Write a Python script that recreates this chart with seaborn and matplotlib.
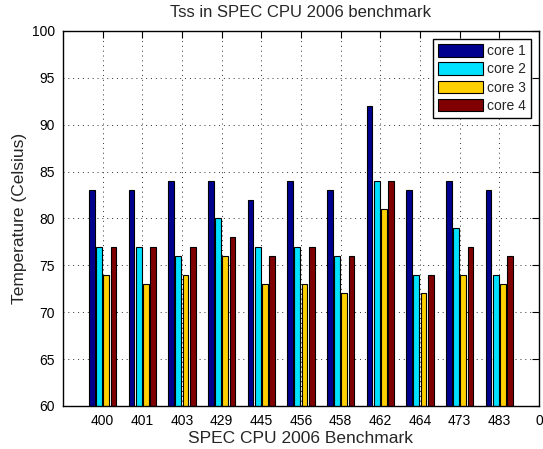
import pandas as pd
import seaborn as sns
import matplotlib.pyplot as plt

# values
benchmarks = ["400", "401", "403", "429", "445", "456", "458", "462", "464", "473", "483"]
core1 = [83, 83, 84, 84, 82, 84, 83, 92, 83, 84, 83]
core2 = [77, 77, 76, 80, 77, 77, 76, 84, 74, 79, 74]
core3 = [74, 73, 74, 76, 73, 73, 72, 81, 72, 74, 73]
core4 = [77, 77, 77, 78, 76, 77, 76, 84, 74, 77, 76]
cores = ["core 1", "core 2", "core 3", "core 4"]
extra_tick = "0"  # trailing tick label shown at the right edge

rows = []
for core, vals in zip(cores, [core1, core2, core3, core4]):
    for b, v in zip(benchmarks, vals):
        rows.append({"bench": b, "core": core, "temp": v})
df = pd.DataFrame(rows)

sns.set_theme(style="white")
plt.rcParams["font.family"] = ["Liberation Sans", "DejaVu Sans"]

fig = plt.figure(figsize=(5.43, 4.49), dpi=100)
ax = fig.add_axes([0.116, 0.0958, 0.8766, 0.8352])

palette = ["#00008F", "#00E0FF", "#FFD000", "#800000"]
sns.barplot(data=df, x="bench", y="temp", hue="core", order=benchmarks + [extra_tick],
            hue_order=cores, palette=palette, width=0.727, gap=0.2,
            edgecolor="black", linewidth=0.8, saturation=1, ax=ax)

ax.set_xlim(-1, 11)
ax.set_ylim(60, 100)
ax.set_yticks(range(60, 101, 5))
ax.set_title("Tss in SPEC CPU 2006 benchmark", fontsize=12, pad=10)
ax.set_xlabel("SPEC CPU 2006 Benchmark", fontsize=12.5, labelpad=2)
ax.set_ylabel("Temperature (Celsius)", fontsize=12.5, labelpad=3)

ax.grid(True, linestyle=(0, (1, 4)), color="#303030", linewidth=0.7)
ax.set_axisbelow(True)
ax.tick_params(direction="in", top=True, right=True, length=5, width=0.8,
               labelsize=10, colors="black", pad=6)
for s in ax.spines.values():
    s.set_visible(True)
    s.set_color("black")
    s.set_linewidth(1)

sns.move_legend(ax, "upper right", title=None, fontsize=10, frameon=True,
                fancybox=False, edgecolor="black", framealpha=1,
                handlelength=3.2, handleheight=1.0, labelspacing=0.3,
                handletextpad=0.3, borderaxespad=0.55, borderpad=0.4)
ax.get_legend().get_frame().set_linewidth(1)

plt.savefig("out.png", dpi=100)
